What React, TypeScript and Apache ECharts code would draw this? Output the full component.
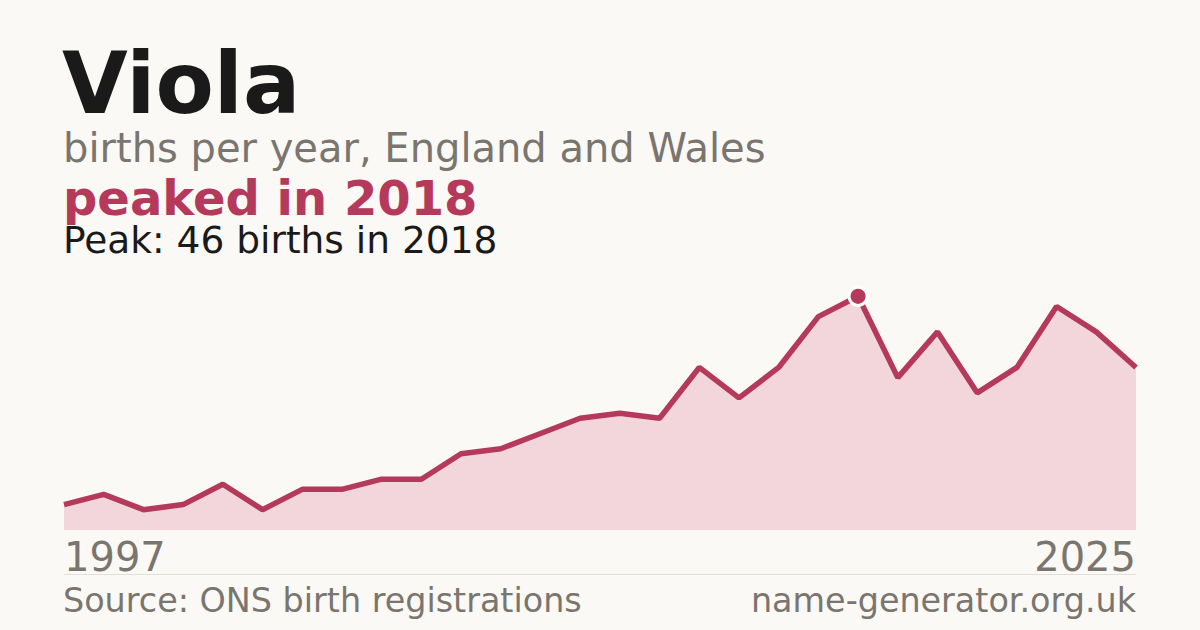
import { useRef, useEffect } from 'react';
import * as echarts from 'echarts';

// births per year (one year is missing before 2018)
const years = [
  '1997', '1998', '1999', '2000', '2001', '2003', '2004', '2005', '2006', '2007',
  '2008', '2009', '2010', '2011', '2012', '2013', '2014', '2015', '2016', '2017',
  '2018', '2019', '2020', '2021', '2022', '2023', '2024', '2025',
];
const births = [
  5, 7, 4, 5, 9, 4, 8, 8, 10, 10,
  15, 16, 19, 22, 23, 22, 32, 26, 32, 42,
  46, 30, 39, 27, 32, 44, 39, 32,
];

const nameTitle = 'Viola';
const subtitle = 'births per year, England and Wales';
const sourceText = 'Source: ONS birth registrations';
const siteText = 'name-generator.org.uk';

const FONT = '"DejaVu Sans", "Noto Sans", sans-serif';
const ACCENT = '#b5395a';
const GREY = '#7a756e';
const INK = '#1a1a1a';
const BG = '#faf9f5';

export default function App() {
  const chartRef = useRef<HTMLDivElement>(null);

  useEffect(() => {
    if (!chartRef.current) return;
    const chart = echarts.init(chartRef.current, undefined, { renderer: 'svg' });

    const peak = Math.max(...births);
    const peakIdx = births.indexOf(peak);
    const peakYear = years[peakIdx];
    const last = years.length - 1;

    // --- headline texts, vertically centred on their line ---
    const textAt = (text: string, x: number, y: number, size: number, color: string, weight = 'normal', align = 'left') => ({
      type: 'text',
      x,
      y,
      silent: true,
      style: {
        text,
        fill: color,
        fontSize: size,
        fontWeight: weight,
        fontFamily: FONT,
        lineHeight: Math.round(size * 0.85),
        align,
        verticalAlign: 'middle',
      },
    });

    chart.setOption({
      animation: false,
      backgroundColor: BG,
      grid: { left: 64, right: 64, top: 276, bottom: 100 },
      xAxis: {
        type: 'category',
        data: years,
        boundaryGap: false,
        axisLine: { show: false },
        axisTick: { show: false },
        splitLine: { show: false },
        axisLabel: {
          interval: (i: number) => i === 0 || i === last,
          color: GREY,
          fontSize: 40,
          fontFamily: FONT,
          margin: 7,
          alignMinLabel: 'left',
          alignMaxLabel: 'right',
        },
      },
      yAxis: {
        type: 'value',
        min: 0,
        max: 50,
        show: false,
        splitLine: { show: false },
      },
      series: [
        {
          type: 'line',
          data: births,
          symbol: 'none',
          lineStyle: { color: ACCENT, width: 5.5 },
          areaStyle: { color: '#f2d6dc', opacity: 1 },
          z: 2,
        },
        {
          type: 'scatter',
          data: [[peakIdx, peak]],
          symbol: 'circle',
          symbolSize: 18,
          itemStyle: { color: ACCENT, borderColor: '#ffffff', borderWidth: 3, opacity: 1 },
          z: 3,
        },
      ],
      graphic: [
        textAt(nameTitle, 62, 83, 85, INK, 'bold'),
        textAt(subtitle, 63, 148, 40, GREY),
        textAt(`peaked in ${peakYear}`, 63, 197.5, 48, ACCENT, 'bold'),
        textAt(`Peak: ${peak} births in ${peakYear}`, 63, 240, 37.5, INK),
        {
          type: 'line',
          silent: true,
          shape: { x1: 64, y1: 574.5, x2: 1136, y2: 574.5 },
          style: { stroke: '#e2dfd8', lineWidth: 1 },
        },
        textAt(sourceText, 63, 600, 33.4, GREY),
        textAt(siteText, 1136, 600, 33.4, GREY, 'normal', 'right'),
      ],
    });

    return () => {
      chart.dispose();
    };
  }, []);

  return (
    <div
      ref={chartRef}
      style={{ position: 'absolute', left: 0, top: 0, width: 1200, height: 630, background: BG }}
    />
  );
}
